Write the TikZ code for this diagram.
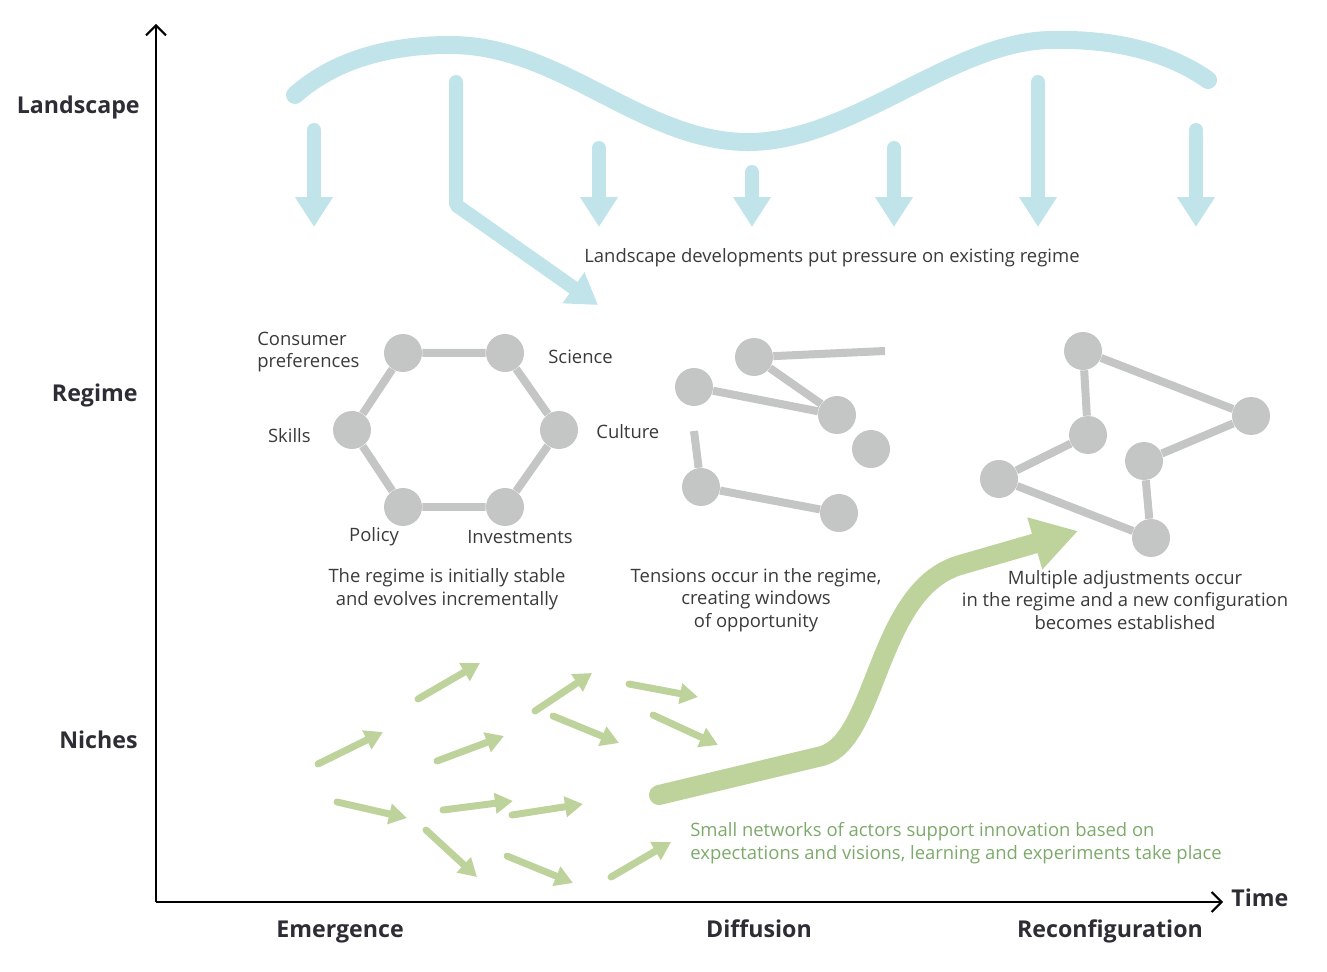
\documentclass[tikz,border=0pt]{standalone}
\usepackage{fontspec}
\setmainfont{Open Sans}
\usetikzlibrary{arrows.meta}
\definecolor{landblue}{HTML}{C1E4EA}
\definecolor{actorgray}{HTML}{C3C6C5}
\definecolor{nichegreen}{HTML}{BED39B}
\definecolor{nichetext}{HTML}{7DAA6A}
\definecolor{inkgray}{HTML}{3A3A3A}
\definecolor{levelink}{HTML}{2D2D35}
\begin{document}
\begin{tikzpicture}[x=0.02cm,y=-0.02cm,
    axis/.style={line width=0.04cm,black,-{Straight Barb[length=0.2cm,width=0.4cm]}},
    level/.style={font=\fontsize{13.2}{15}\selectfont\bfseries,text=levelink,inner sep=0},
    note/.style={font=\fontsize{10.5}{12.8}\selectfont,text=inkgray,inner sep=0,align=center},
    landarrow/.style={landblue,line width=0.28cm,line cap=round,-{Triangle[length=0.6cm,width=0.72cm]}},
    nicharrow/.style={nichegreen,line width=0.14cm,line cap=round,-{Triangle[length=0.36cm,width=0.4cm]}},
    actor/.style={circle,fill=actorgray,minimum size=0.76cm,inner sep=0},
    tie/.style={actorgray,line width=0.16cm}]
    \useasboundingbox (0,0) rectangle (1327,972);

    % axes
    \coordinate (origin) at (156,902);
    \coordinate (ytop) at (156,24);
    \coordinate (xend) at (1223,902);
    \draw [axis] (origin) -- (ytop);
    \draw [axis] (origin) -- (xend);
    \node [level,anchor=base east] (landscape) at (140,114) {Landscape};
    \node [level,anchor=base east] (regime) at (138,402) {Regime};
    \node [level,anchor=base east] (niches) at (138,748) {Niches};
    \node [level,anchor=base west] (time) at (1231,906) {Time};
    \node [level,anchor=base] (emergence) at (340,937) {Emergence};
    \node [level,anchor=base] (diffusion) at (759,937) {Diffusion};
    \node [level,anchor=base] (reconfig) at (1110,937) {Reconfiguration};

    % landscape
    \draw [landblue,line width=0.36cm,line cap=round] (295,95) .. controls (340,55) and (400,45) .. (450,45)
        .. controls (560,45) and (640,140) .. (745,142) .. controls (850,144) and (950,42) .. (1050,40)
        .. controls (1130,38) and (1180,60) .. (1208,80);
    \foreach \x/\y in {314/130, 599/148, 752/172, 894/148, 1038/82, 1196/130}
        \draw [landarrow] (\x,\y) -- (\x,227);
    \draw [landarrow,line join=bevel] (456,82) -- (456,205) -- (598,305);
    \node [note,anchor=base west] (pressure) at (584,263) {Landscape developments put pressure on existing regime};

    % regime, stable
    \node [actor] (consumer) at (403,353) {};
    \node [actor] (science) at (505,353) {};
    \node [actor] (culture) at (559,430) {};
    \node [actor] (invest) at (505,507) {};
    \node [actor] (policy) at (403,507) {};
    \node [actor] (skills) at (352,430) {};
    \draw [tie] (consumer) -- (science) -- (culture) -- (invest) -- (policy) -- (skills) -- (consumer);
    \node [note,align=left,anchor=west] (consumerlbl) at (257,352) {Consumer\\preferences};
    \node [note,anchor=west] (sciencelbl) at (548,357) {Science};
    \node [note,anchor=west] (culturelbl) at (596,432) {Culture};
    \node [note,anchor=east] (skillslbl) at (311,436) {Skills};
    \node [note] (policylbl) at (374,537) {Policy};
    \node [note] (investlbl) at (520,537) {Investments};
    \node [note] (stable) at (447,589) {The regime is initially stable\\and evolves incrementally};

    % regime, tensions
    \node [actor] (ta) at (754,357) {};
    \node [actor] (tb) at (694,387) {};
    \node [actor] (tc) at (837,415) {};
    \node [actor] (td) at (871,449) {};
    \node [actor] (te) at (701,487) {};
    \node [actor] (tf) at (839,513) {};
    \coordinate (tafree) at (885,351);
    \coordinate (tefree) at (694,431);
    \draw [tie] (ta) -- (tafree);
    \draw [tie] (ta) -- (tc) -- (tb);
    \draw [tie] (tefree) -- (te) -- (tf);
    \node [note] (tensions) at (756,600) {Tensions occur in the regime,\\creating windows\\of opportunity};

    % regime, new configuration
    \node [actor] (na) at (1083,351) {};
    \node [actor] (nb) at (1251,416) {};
    \node [actor] (nc) at (1088,435) {};
    \node [actor] (nd) at (1144,461) {};
    \node [actor] (ne) at (999,479) {};
    \node [actor] (nf) at (1151,538) {};
    \draw [tie] (nc) -- (na) -- (nb) -- (nd) -- (nf) -- (ne) -- (nc);
    \node [note] (adjust) at (1125,600) {Multiple adjustments occur\\in the regime and a new configuration\\becomes established};

    % niches
    \foreach \a/\b/\c/\d in {418/699/480/663, 318/764/383/732, 437/761/504/736, 535/711/592/673,
        629/684/698/697, 553/716/619/743, 653/715/718/745, 337/802/407/818, 443/810/513/801,
        512/815/583/804, 426/830/477/877, 507/856/573/883, 611/877/671/842}
        \draw [nicharrow] (\a,\b) -- (\c,\d);
    \draw [nichegreen,line width=0.4cm,line cap=round,-{Triangle[length=0.9cm,width=1.02cm]}]
        (659,795) -- (822,756) .. controls (878,740) and (876,590) .. (960,565) -- (1078,531);
    \node [note,align=left,anchor=west,text=nichetext] (smallnet) at (690,843) {Small networks of actors support innovation based on\\expectations and visions, learning and experiments take place};

\end{tikzpicture}
\end{document}
